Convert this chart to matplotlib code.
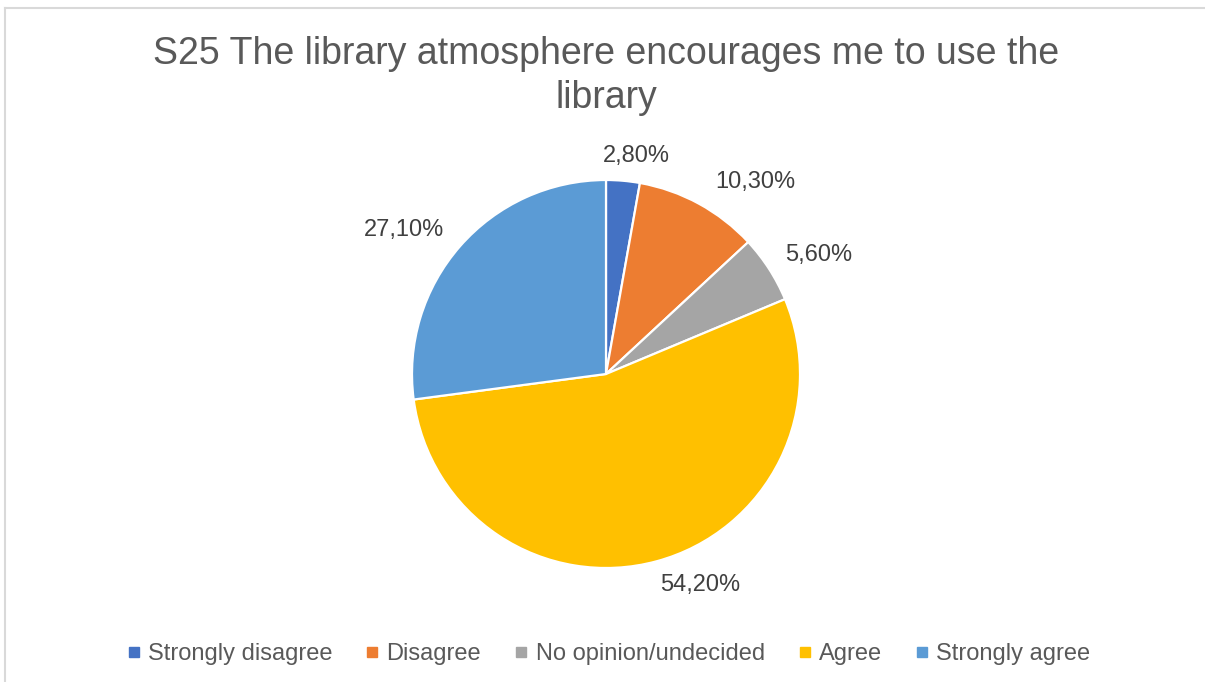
import matplotlib.pyplot as plt
import numpy as np
from matplotlib.lines import Line2D

plt.rcParams['font.family'] = ['Liberation Sans', 'DejaVu Sans']

categories = ['Strongly disagree', 'Disagree', 'No opinion/undecided', 'Agree', 'Strongly agree']
shares = [2.8, 10.3, 5.6, 54.2, 27.1]
colors = ['#4472C4', '#ED7D31', '#A5A5A5', '#FFC000', '#5B9BD5']
title = 'S25 The library atmosphere encourages me to use the\nlibrary'

W, H = 1205, 682
fig = plt.figure(figsize=(W / 100, H / 100), dpi=100)

# chart frame (top and left edges only)
fig.add_artist(Line2D([4.5 / W, 1204 / W], [1 - 7.5 / H, 1 - 7.5 / H],
                      color='#D9D9D9', lw=1.5, transform=fig.transFigure))
fig.add_artist(Line2D([4.5 / W, 4.5 / W], [0, 1 - 7.5 / H],
                      color='#D9D9D9', lw=1.5, transform=fig.transFigure))

fig.text(0.503, 1 - 36 / H, title, ha='center', va='top', fontsize=27,
         color='#595959', linespacing=1.3)

# pie axes: centre and radius in pixels
cx, cy, r = 606, 374, 194
box = 600
ax = fig.add_axes([(cx - box / 2) / W, 1 - (cy + box / 2) / H, box / W, box / H])

wedges, _ = ax.pie(shares, colors=colors, startangle=90, counterclock=False,
                   radius=1, wedgeprops=dict(edgecolor='white', linewidth=1.6))
lim = box / 2 / r
ax.set_xlim(-lim, lim)
ax.set_ylim(-lim, lim)
ax.axis('off')

# value labels: offset from the rim at each slice's mid angle
for w, v in zip(wedges, shares):
    ang = np.deg2rad((w.theta1 + w.theta2) / 2)
    c, s = np.cos(ang), np.sin(ang)
    txt = f'{v:.2f}%'.replace('.', ',')
    hw = len(txt) * 6.5
    dx = np.sign(c) * (hw + 17) * min(1, 3 * abs(c))
    dy = s * 25
    ax.text(c + dx / r, s + dy / r, txt, ha='center', va='center',
            fontsize=17, color='#404040')

handles = [Line2D([], [], marker='s', linestyle='none', markersize=6.5,
                  markerfacecolor=c, markeredgecolor=c) for c in colors]
fig.legend(handles, categories, loc='center', bbox_to_anchor=(0.505, 1 - 654 / H),
           ncol=5, frameon=False, fontsize=17, labelcolor='#595959',
           handlelength=0.6, handletextpad=0.3, columnspacing=1.4)

fig.savefig('out.png', dpi=100)
